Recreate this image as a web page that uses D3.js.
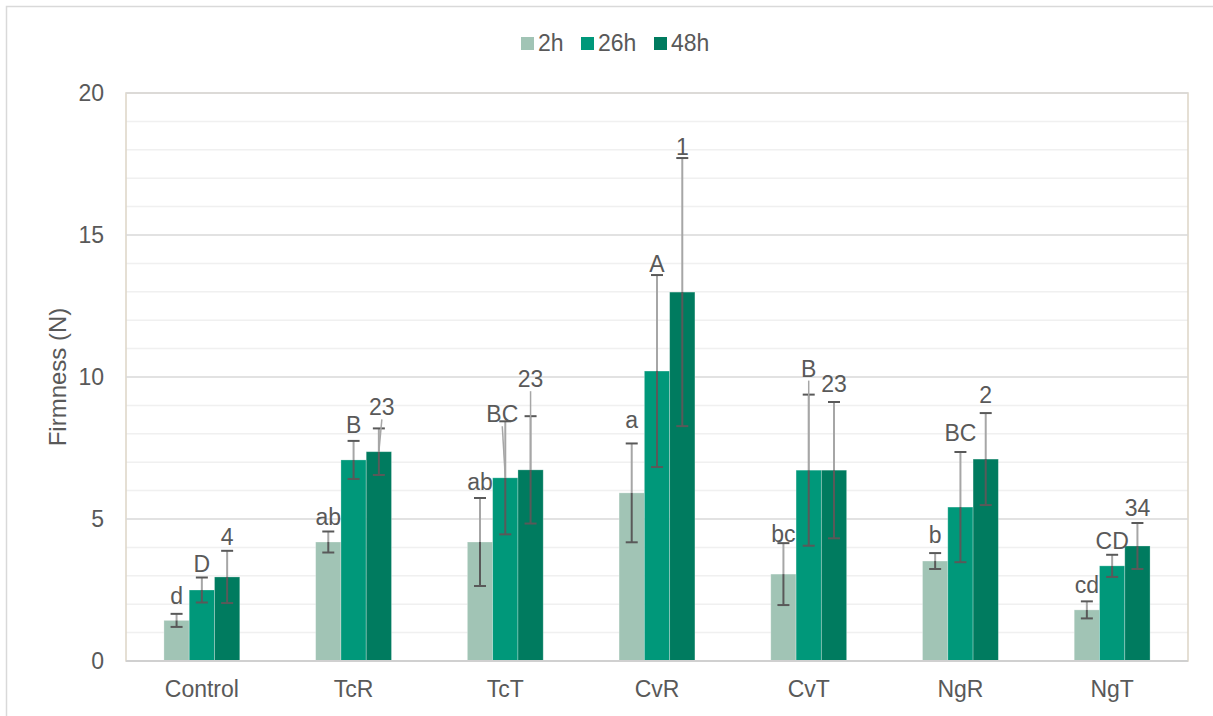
<!DOCTYPE html>
<html>
<head>
<meta charset="utf-8">
<script src="https://cdn.jsdelivr.net/npm/d3@7"></script>
<style>
  html, body { margin: 0; padding: 0; background: #fff; }
  svg { display: block; }
  text { font-family: "Liberation Sans", Arial, sans-serif; fill: #595959; }
</style>
</head>
<body>
<svg id="chart" width="1213" height="716"></svg>
<script>
// Treatments and sampling times
const categories = ["Control", "TcR", "TcT", "CvR", "CvT", "NgR", "NgT"];
const series = ["2h", "26h", "48h"];

// Mean firmness (N) per treatment
const mean2h  = [1.43, 4.19, 4.19, 5.92, 3.06, 3.52, 1.80];
const mean26h = [2.50, 7.08, 6.45, 10.21, 6.72, 5.42, 3.35];
const mean48h = [2.96, 7.37, 6.73, 12.99, 6.72, 7.11, 4.05];

// Standard deviations
const err2h  = [0.23, 0.37, 1.55, 1.74, 1.09, 0.28, 0.30];
const err26h = [0.44, 0.67, 1.99, 3.38, 2.66, 1.94, 0.39];
const err48h = [0.92, 0.82, 1.89, 4.72, 2.40, 1.62, 0.81];

// Significance letters
const labels2h  = ["d", "ab", "ab", "a", "bc", "b", "cd"];
const labels26h = ["D", "B", "BC", "A", "B", "BC", "CD"];
const labels48h = ["4", "23", "23", "1", "23", "2", "34"];

const yTicks = [0, 5, 10, 15, 20];

// ---- layout ----
const W = 1213, H = 716;
const plot = { left: 126, right: 1188, top: 93, bottom: 661 };
const colors = { "2h": "#a1c4b5", "26h": "#00987a", "48h": "#007b5f" };
const fontSize = "23px";
// label placement relative to the upper error cap (px); leader = connector line to bar top
const labelAdjust = {
  "Control": [{ dy: -10 }, { dy: -6 }, { dy: -6 }],
  "TcR":     [{ dy: -6 }, { dy: -8 }, { dy: -13, dx: 3, leader: true }],
  "TcT":     [{ dy: -8 }, { dy: 1, dx: -3, leader: true }, { dy: -29, leader: true }],
  "CvR":     [{ dy: -15 }, { dy: -3 }, { dy: -3 }],
  "CvT":     [{ dy: -1 }, { dy: -18, leader: true }, { dy: -10 }],
  "NgR":     [{ dy: -10 }, { dy: -11 }, { dy: -10 }],
  "NgT":     [{ dy: -8 }, { dy: -6 }, { dy: -7 }]
};

const means = { "2h": mean2h, "26h": mean26h, "48h": mean48h };
const errs = { "2h": err2h, "26h": err26h, "48h": err48h };
const labels = { "2h": labels2h, "26h": labels26h, "48h": labels48h };

const rows = [];
categories.forEach((c, i) => {
  series.forEach((s, j) => {
    rows.push({ cat: c, ser: s, si: j, mean: means[s][i], err: errs[s][i], label: labels[s][i] });
  });
});

const svg = d3.select("#chart");

// outer chart frame
svg.append("path")
  .attr("d", `M6.5,${H} V6.5 H${W}`)
  .attr("fill", "none").attr("stroke", "#d9d9d9").attr("stroke-width", 1.5);

const y = d3.scaleLinear().domain([0, 20]).range([plot.bottom, plot.top]);
const x0 = d3.scaleBand().domain(categories).range([plot.left, plot.right])
  .paddingInner(0.5).paddingOuter(0.25);
const x1 = d3.scaleBand().domain(series).range([0, x0.bandwidth()]);

// minor gridlines
const minor = d3.range(1, 20).filter(v => v % 5 !== 0);
svg.append("g").selectAll("line").data(minor).join("line")
  .attr("x1", plot.left).attr("x2", plot.right)
  .attr("y1", d => y(d)).attr("y2", d => y(d))
  .attr("stroke", "#f0f0f0").attr("stroke-width", 1.5);

// plot area border
svg.append("rect")
  .attr("x", plot.left).attr("y", plot.top)
  .attr("width", plot.right - plot.left).attr("height", plot.bottom - plot.top)
  .attr("fill", "none").attr("stroke", "#ddd5c6").attr("stroke-width", 1.5);

// major gridlines
svg.append("g").selectAll("line").data(yTicks.filter(v => v > 0)).join("line")
  .attr("x1", plot.left).attr("x2", plot.right)
  .attr("y1", d => y(d)).attr("y2", d => y(d))
  .attr("stroke", "#d9d9d9").attr("stroke-width", 1.5);

// y tick labels
svg.append("g").selectAll("text").data(yTicks).join("text")
  .attr("x", 104).attr("y", d => y(d))
  .attr("text-anchor", "end").attr("dominant-baseline", "central")
  .style("font-size", fontSize)
  .text(d => d);

// y axis title
svg.append("text")
  .attr("transform", `translate(66,${(plot.top + plot.bottom) / 2}) rotate(-90)`)
  .attr("text-anchor", "middle")
  .style("font-size", "24px")
  .text("Firmness (N)");

// bars
const barX = d => x0(d.cat) + x1(d.ser);
const barC = d => barX(d) + x1.bandwidth() / 2;
svg.append("g").selectAll("rect").data(rows).join("rect")
  .attr("x", barX).attr("width", x1.bandwidth())
  .attr("y", d => y(d.mean)).attr("height", d => y(0) - y(d.mean))
  .attr("fill", d => colors[d.ser])
  .attr("stroke", "rgba(255,255,255,0.35)").attr("stroke-width", 0.8);

// x axis line
svg.append("line")
  .attr("x1", plot.left).attr("x2", plot.right)
  .attr("y1", y(0)).attr("y2", y(0))
  .attr("stroke", "#d0d0d0").attr("stroke-width", 2);

// x category labels
svg.append("g").selectAll("text").data(categories).join("text")
  .attr("x", d => x0(d) + x0.bandwidth() / 2).attr("y", 697)
  .attr("text-anchor", "middle")
  .style("font-size", fontSize)
  .text(d => d);

// error bars
const eb = svg.append("g");
eb.selectAll("line.up").data(rows).join("line").attr("class", "up")
  .attr("x1", barC).attr("x2", barC)
  .attr("y1", d => y(d.mean)).attr("y2", d => y(d.mean + d.err))
  .attr("stroke", "#a6a6a6").attr("stroke-width", 2);
eb.selectAll("line.down").data(rows).join("line").attr("class", "down")
  .attr("x1", barC).attr("x2", barC)
  .attr("y1", d => y(d.mean)).attr("y2", d => y(d.mean - d.err))
  .attr("stroke", "#595959").attr("stroke-width", 2);
const capHalf = 6;
["top", "bot"].forEach(k => {
  eb.selectAll("line.cap-" + k).data(rows).join("line").attr("class", "cap-" + k)
    .attr("x1", d => barC(d) - capHalf).attr("x2", d => barC(d) + capHalf)
    .attr("y1", d => y(k === "top" ? d.mean + d.err : d.mean - d.err))
    .attr("y2", d => y(k === "top" ? d.mean + d.err : d.mean - d.err))
    .attr("stroke", "#595959").attr("stroke-width", 2);
});

// data labels with optional leader lines
const lab = svg.append("g");
rows.forEach(d => {
  const adj = labelAdjust[d.cat][d.si];
  const lx = barC(d) + (adj.dx || 0);
  const ly = y(d.mean + d.err) + adj.dy;
  if (adj.leader) {
    lab.append("line")
      .attr("x1", lx).attr("y1", ly + 4)
      .attr("x2", barC(d)).attr("y2", y(d.mean))
      .attr("stroke", "#a6a6a6").attr("stroke-width", 1.5);
  }
  lab.append("text")
    .attr("x", lx).attr("y", ly)
    .attr("text-anchor", "middle")
    .style("font-size", fontSize)
    .text(d.label);
});

// legend
const legendItems = [
  { s: "2h", x: 521 },
  { s: "26h", x: 581 },
  { s: "48h", x: 654 }
];
const lg = svg.append("g");
legendItems.forEach(it => {
  lg.append("rect").attr("x", it.x).attr("y", 37).attr("width", 13).attr("height", 13)
    .attr("fill", colors[it.s]);
  lg.append("text").attr("x", it.x + 17).attr("y", 51)
    .style("font-size", fontSize).text(it.s);
});
</script>
</body>
</html>
